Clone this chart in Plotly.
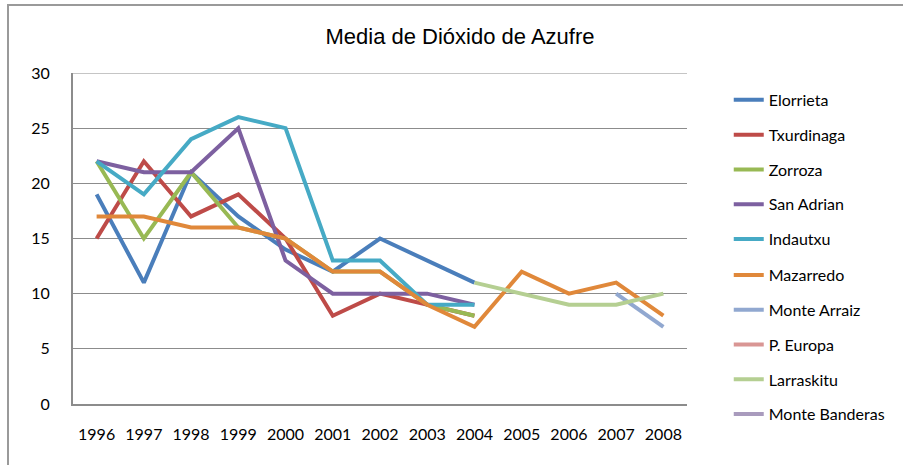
import plotly.graph_objects as go

years = ["1996", "1997", "1998", "1999", "2000", "2001", "2002",
         "2003", "2004", "2005", "2006", "2007", "2008"]

elorrieta = [19, 11, 21, 17, 14, 12, 15, 13, 11, None, None, None, None]
txurdinaga = [15, 22, 17, 19, 15, 8, 10, 9, 8, None, None, None, None]
zorroza = [22, 15, 21, 16, 15, 12, 12, 9, 8, None, None, None, None]
san_adrian = [22, 21, 21, 25, 13, 10, 10, 10, 9, None, None, None, None]
indautxu = [22, 19, 24, 26, 25, 13, 13, 9, 9, None, None, None, None]
mazarredo = [17, 17, 16, 16, 15, 12, 12, 9, 7, 12, 10, 11, 8]
monte_arraiz = [None, None, None, None, None, None, None, None, None, None, None, 10, 7]
p_europa = [None] * 13
larraskitu = [None, None, None, None, None, None, None, None, 11, 10, 9, 9, 10]
monte_banderas = [None] * 13

series = [
    ("Elorrieta", elorrieta, "#4A7EBB"),
    ("Txurdinaga", txurdinaga, "#BE4B48"),
    ("Zorroza", zorroza, "#98B954"),
    ("San Adrian", san_adrian, "#7D60A0"),
    ("Indautxu", indautxu, "#46AAC5"),
    ("Mazarredo", mazarredo, "#E0883A"),
    ("Monte Arraiz", monte_arraiz, "#91A8D0"),
    ("P. Europa", p_europa, "#D99694"),
    ("Larraskitu", larraskitu, "#B5CF92"),
    ("Monte Banderas", monte_banderas, "#A99BBD"),
]

fig = go.Figure()
for i, (name, vals, col) in enumerate(series):
    fig.add_trace(go.Scatter(
        x=years, y=vals, name=name, mode="lines",
        line=dict(color=col, width=4),
        legendgroup=name, connectgaps=False,
        legend="legend" if i < 5 else "legend2",
    ))

grid = "#8C8C8C"
leg_common = dict(xanchor="left", yanchor="top", tracegroupgap=11,
                  font=dict(size=16), bgcolor="rgba(0,0,0,0)")
fig.update_layout(
    width=903, height=465,
    margin=dict(l=73, r=216, t=73, b=61, autoexpand=False),
    paper_bgcolor="white", plot_bgcolor="white",
    font=dict(family="Lato, Carlito, Liberation Sans, sans-serif", size=16, color="black"),
    title=dict(text="Media de Dióxido de Azufre", x=460 / 903, xanchor="center",
               y=1 - 36 / 465, yanchor="middle", yref="container", xref="container",
               font=dict(family="Liberation Sans, Arial, sans-serif", size=22, color="black")),
    showlegend=True,
    legend=dict(x=1.068, y=0.97, **leg_common),
    legend2=dict(x=1.068, y=(404 - 258) / 331, **leg_common),
    xaxis=dict(type="category", range=[-0.5, 12.5], showgrid=False, showline=True,
               linecolor=grid, linewidth=2, ticks="", ticklabelstandoff=15, zeroline=False),
    yaxis=dict(range=[0, 30], dtick=5, showgrid=True, gridcolor=grid, gridwidth=1,
               showline=True, linecolor=grid, linewidth=2, ticks="",
               ticklabelstandoff=18, zeroline=False),
    shapes=[dict(type="rect", xref="paper", yref="paper",
                 x0=(8 - 73) / 614, x1=(960 - 73) / 614,
                 y0=-(520 - 404) / 331, y1=(404 - 5) / 331,
                 line=dict(color="#9A9A9A", width=2), layer="below")],
)
fig.add_shape(type="line", xref="paper", yref="y", x0=0, x1=1, y0=30, y1=30,
              line=dict(color=grid, width=1), layer="below")

fig.write_html("out.html", config={"displayModeBar": False},
               post_script="document.body.style.margin='0px';document.body.style.overflow='hidden';")
